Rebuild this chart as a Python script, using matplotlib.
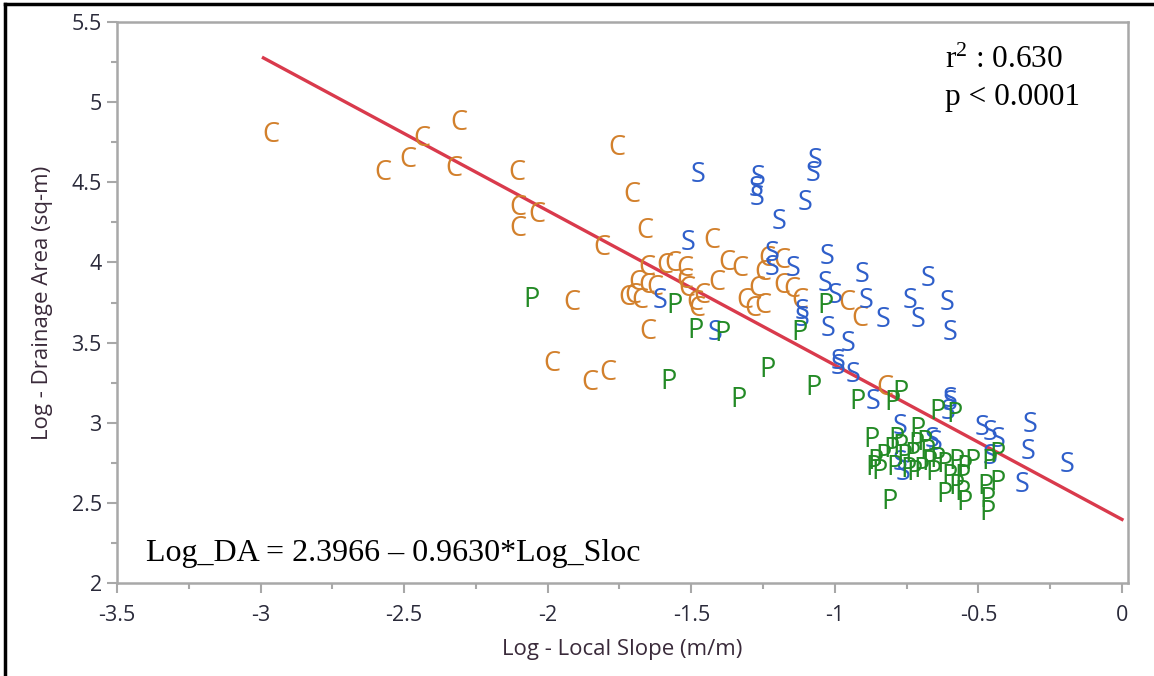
import matplotlib
matplotlib.use("Agg")
import matplotlib.pyplot as plt
from matplotlib.ticker import MultipleLocator
from matplotlib.lines import Line2D

plt.rcParams["mathtext.fontset"] = "custom"
plt.rcParams["mathtext.rm"] = "Liberation Serif"
plt.rcParams["mathtext.it"] = "Liberation Serif:italic"

# ---------------- data ----------------
c_x = [-2.964, -2.574, -2.487, -2.438, -2.309, -2.327, -2.107, -2.104, -2.038, -2.104,
       -1.811, -1.759, -1.707, -1.661, -1.428, -1.916, -1.985, -1.853, -1.790, -1.651,
       -1.654, -1.592, -1.564, -1.522, -1.689, -1.654, -1.627, -1.703, -1.679, -1.522,
       -1.515, -1.487, -1.463, -1.480, -1.411, -1.376, -1.330, -1.271, -1.313, -1.285,
       -1.250, -1.250, -1.184, -1.184, -1.149, -1.236, -1.122, -0.958, -0.913, -0.825,
       -1.724]
c_y = [4.796, 4.559, 4.640, 4.771, 4.871, 4.584, 4.559, 4.341, 4.298, 4.211,
       4.092, 4.715, 4.422, 4.198, 4.136, 3.750, 3.364, 3.245, 3.308, 3.563,
       3.968, 3.980, 3.993, 3.962, 3.874, 3.856, 3.843, 3.793, 3.762, 3.887,
       3.837, 3.744, 3.793, 3.712, 3.874, 3.999, 3.962, 3.837, 3.762, 3.712,
       3.731, 3.937, 4.011, 3.856, 3.825, 4.024, 3.762, 3.744, 3.650, 3.214,
       3.775]

s_x = [-1.477, -1.268, -1.275, -1.271, -1.195, -1.069, -1.076, -1.104, -1.219, -1.219,
       -1.146, -1.027, -0.906, -0.676, -1.034, -1.000, -0.892, -0.738, -0.610, -1.115,
       -1.115, -1.024, -0.832, -0.711, -0.599, -0.954, -0.989, -0.989, -0.937, -0.867,
       -0.599, -0.606, -0.773, -0.651, -0.488, -0.460, -0.432, -0.320, -0.327, -0.192,
       -0.348, -0.763, -0.773, -0.460, -1.609, -1.418, -1.512, -0.662, -0.599]
s_y = [4.547, 4.528, 4.460, 4.404, 4.254, 4.634, 4.553, 4.373, 4.055, 3.968,
       3.962, 4.036, 3.924, 3.899, 3.868, 3.793, 3.762, 3.762, 3.750, 3.688,
       3.650, 3.582, 3.638, 3.638, 3.557, 3.494, 3.376, 3.345, 3.295, 3.127,
       3.121, 3.065, 2.971, 2.872, 2.965, 2.934, 2.890, 2.984, 2.816, 2.735,
       2.610, 2.685, 2.747, 2.785, 3.762, 3.557, 4.123, 2.890, 3.140]

p_x = [-2.055, -1.581, -1.337, -1.233, -1.557, -1.487, -1.390, -1.034, -1.122, -1.076,
       -0.920, -0.798, -0.773, -0.644, -0.582, -0.871, -0.784, -0.711, -0.860, -0.867,
       -0.832, -0.801, -0.773, -0.756, -0.731, -0.714, -0.686, -0.679, -0.669, -0.641,
       -0.617, -0.575, -0.547, -0.522, -0.599, -0.575, -0.617, -0.557, -0.547, -0.808,
       -0.745, -0.721, -0.697, -0.658, -0.460, -0.435, -0.435, -0.477, -0.467, -0.470,
       -0.557, -0.843, -0.791]
p_y = [3.768, 3.252, 3.140, 3.326, 3.731, 3.575, 3.551, 3.731, 3.557, 3.214,
       3.127, 3.121, 3.183, 3.065, 3.046, 2.890, 2.890, 2.953, 2.753, 2.716,
       2.785, 2.828, 2.847, 2.785, 2.797, 2.859, 2.872, 2.816, 2.747, 2.766,
       2.735, 2.753, 2.716, 2.753, 2.660, 2.598, 2.548, 2.560, 2.498, 2.504,
       2.704, 2.685, 2.704, 2.685, 2.753, 2.797, 2.623, 2.598, 2.517, 2.436,
       2.660, 2.691, 2.716]

intercept = 2.3966
slope = -0.9630
fit_x = [-2.99, 0.0]

x_ticks = [-3.5, -3, -2.5, -2, -1.5, -1, -0.5, 0]
x_tick_labels = ["-3.5", "-3", "-2.5", "-2", "-1.5", "-1", "-0.5", "0"]
y_ticks = [2, 2.5, 3, 3.5, 4, 4.5, 5, 5.5]
y_tick_labels = ["2", "2.5", "3", "3.5", "4", "4.5", "5", "5.5"]

# ---------------- figure ----------------
W, H = 1154, 676
fig = plt.figure(figsize=(W / 100, H / 100), dpi=100)
fig.patch.set_facecolor("white")
ax = fig.add_axes([117 / W, 1 - 583 / H, (1128 - 117) / W, (583 - 22) / H])

ax.set_xlim(-3.5, 0.021)
ax.set_ylim(2, 5.5)

spine_col = "#A8A8A8"
for s in ax.spines.values():
    s.set_color(spine_col)
    s.set_linewidth(1.8)

ax.set_xticks(x_ticks)
ax.set_xticklabels(x_tick_labels)
ax.set_yticks(y_ticks)
ax.set_yticklabels(y_tick_labels)
ax.xaxis.set_minor_locator(MultipleLocator(0.25))
ax.yaxis.set_minor_locator(MultipleLocator(0.25))
ax.tick_params(which="major", direction="out", length=7, width=1.5, color=spine_col,
               labelsize=15.5, labelcolor="#2a2a3a")
ax.tick_params(which="minor", direction="out", length=4, width=1.5, color=spine_col)
ax.tick_params(axis="x", which="major", pad=9)
ax.tick_params(axis="y", which="major", pad=4)

label_font = "Open Sans"
for lab in ax.get_xticklabels() + ax.get_yticklabels():
    lab.set_fontfamily(label_font)

ax.set_xlabel("Log - Local Slope (m/m)", fontsize=16, fontfamily=label_font,
              color="#3a2a3a", labelpad=9)
ax.set_ylabel("Log - Drainage Area (sq-m)", fontsize=16, fontfamily=label_font,
              color="#3a2a3a", labelpad=13)

# regression line
fit_y = [intercept + slope * v for v in fit_x]
ax.plot(fit_x, fit_y, color="#D93A4C", linewidth=2.4, zorder=1)

# letter markers
groups = [("C", c_x, c_y, "#D2802C"),
          ("S", s_x, s_y, "#2F5FCA"),
          ("P", p_x, p_y, "#238A25")]
for letter, xs, ys, col in groups:
    for xv, yv in zip(xs, ys):
        ax.text(xv, yv, letter, color=col, fontsize=19.5, fontfamily=label_font,
                ha="center", va="center", zorder=2)

# annotations
serif = "Liberation Serif"
ax.text(945 / W, 1 - 60 / H, r"r$^{2}$ : 0.630", transform=fig.transFigure,
        fontsize=22.5, fontfamily=serif, ha="left", va="center")
ax.text(945 / W, 1 - 98 / H, "p < 0.0001", transform=fig.transFigure,
        fontsize=22.5, fontfamily=serif, ha="left", va="center")
ax.text(146 / W, 1 - 553 / H, "Log_DA = 2.3966 \u2013 0.9630*Log_Sloc",
        transform=fig.transFigure, fontsize=23, fontfamily=serif, ha="left", va="center")

# outer black frame (top and left edges visible)
fig.add_artist(Line2D([5 / W, 5 / W], [0, 1 - 4 / H], transform=fig.transFigure,
                      color="black", linewidth=2.5))
fig.add_artist(Line2D([5 / W, 1], [1 - 4 / H, 1 - 4 / H], transform=fig.transFigure,
                      color="black", linewidth=2.5))

fig.savefig("out.png", dpi=100)
